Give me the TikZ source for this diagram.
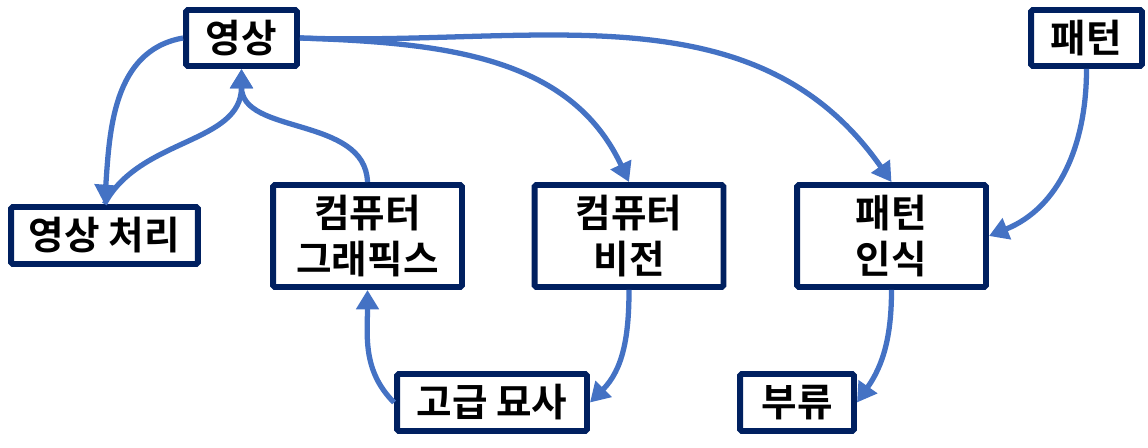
\documentclass[tikz,border=0pt]{standalone}
\usepackage{fontspec}
\newfontfamily\kr{Noto Sans CJK KR Bold}
\usepackage{xcolor}
\usetikzlibrary{arrows.meta}
\definecolor{boxnavy}{HTML}{002060}
\definecolor{flowblue}{HTML}{4472C4}

\begin{document}
\begin{tikzpicture}[x=0.02cm,y=0.02cm,
  every node/.style={draw=boxnavy,line width=3.4pt,fill=white,rounded corners=1pt,
    align=center,inner sep=0pt,font=\kr\fontsize{22}{26}\selectfont},
  flow/.style={draw=flowblue,line width=3pt,-{Triangle[length=11pt,width=12.5pt]}}]
  \useasboundingbox (0,0) rectangle (1148,447);
  \node[minimum width=2.22cm,minimum height=1.12cm] (img) at (241.5,409) {영상};
  \node[minimum width=2.22cm,minimum height=1.12cm] (pat) at (1086.5,409) {패턴};
  \node[minimum width=3.74cm,minimum height=1.14cm] (proc) at (104.5,211.5) {영상 처리};
  \node[minimum width=3.78cm,minimum height=2.04cm] (cg) at (367.5,211) {컴퓨터\\그래픽스};
  \node[minimum width=3.78cm,minimum height=2.04cm] (cv) at (629,211) {컴퓨터\\비전};
  \node[minimum width=3.78cm,minimum height=2.04cm] (pr) at (891.5,211) {패턴\\인식};
  \node[minimum width=3.80cm,minimum height=1.14cm] (desc) at (492,44.5) {고급 묘사};
  \node[minimum width=2.28cm,minimum height=1.14cm] (cls) at (797,44.5) {부류};
  \draw[flow] (img.west) to[out=190,in=86] (proc.north);
  \draw[flow] (proc.north) to[out=62,in=-90] (img.south);
  \draw[flow] (cg.north) to[out=92,in=-90] (img.south);
  \draw[flow] (img.east) to[out=-2,in=115] (cv.north);
  \draw[flow] (img.east) to[out=-2,in=125] (pr.north);
  \draw[flow] (pat.south) to[out=-90,in=22] (pr.east);
  \draw[flow] (desc.west) to[out=135,in=-90] (cg.south);
  \draw[flow] (cv.south) to[out=-90,in=45] (desc.east);
  \draw[flow] (pr.south) to[out=-90,in=55] (cls.east);
\end{tikzpicture}
\end{document}
